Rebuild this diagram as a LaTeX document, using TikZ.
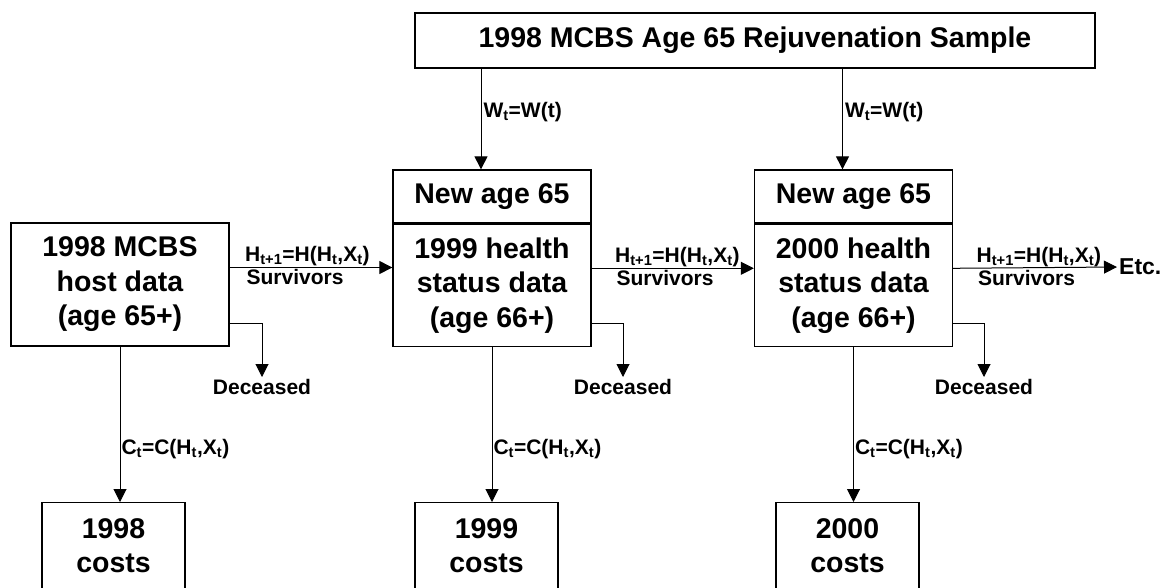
\documentclass[tikz,border=0pt]{standalone}
\usepackage{fontspec}
\setmainfont{Liberation Sans}
\usepackage{tikz}
\usetikzlibrary{arrows.meta,positioning,calc}

\begin{document}
\begin{tikzpicture}[
    x=1pt, y=-1pt,
    box/.style={rectangle, draw, line width=1.3pt, align=center, inner sep=0pt,
        font=\fontsize{28.5}{34.5}\selectfont\bfseries},
    lbl/.style={inner sep=2pt, font=\fontsize{21}{24}\selectfont\bfseries},
    arrow/.style={-{Triangle[length=13pt,width=13pt]}, line width=1pt}
]
    \useasboundingbox (0,0) rectangle (1168,587);

    % Sample and data boxes
    \node[box, minimum width=680pt, minimum height=55pt] (sample) at (755,40.5) {1998 MCBS Age 65 Rejuvenation Sample};

    \node[box, minimum width=218pt, minimum height=123pt] (host) at (120,284.5) {1998 MCBS\\host data\\(age 65+)};

    \node[box, minimum width=198pt, minimum height=53pt] (new1) at (492,196.5) {New age 65};
    \node[box, minimum width=198pt, minimum height=122pt, anchor=north] (data1) at (new1.south) {1999 health\\status data\\(age 66+)};

    \node[box, minimum width=198pt, minimum height=53pt] (new2) at (853.5,196.5) {New age 65};
    \node[box, minimum width=198pt, minimum height=122pt, anchor=north] (data2) at (new2.south) {2000 health\\status data\\(age 66+)};

    % Cost boxes
    \node[box, minimum width=143pt, minimum height=86pt, anchor=north] (cost0) at (113.5,502) {1998\\costs};
    \node[box, minimum width=143pt, minimum height=86pt, anchor=north] (cost1) at (486.5,502) {1999\\costs};
    \node[box, minimum width=143pt, minimum height=86pt, anchor=north] (cost2) at (847.5,502) {2000\\costs};

    % Deceased and Etc.
    \node[lbl, anchor=north] (dead0) at (262,377) {Deceased};
    \node[lbl, anchor=north] (dead1) at (623,377) {Deceased};
    \node[lbl, anchor=north] (dead2) at (984,377) {Deceased};
    \node[lbl, anchor=west, font=\fontsize{23}{26}\selectfont\bfseries] (etc) at (1117,267) {Etc.};

    % Rejuvenation arrows
    \draw[arrow] ([xshift=-11pt]new1.north |- sample.south) -- node[lbl, right, pos=0.43] {W\textsubscript{t}=W(t)} ([xshift=-11pt]new1.north);
    \draw[arrow] ([xshift=-11pt]new2.north |- sample.south) -- node[lbl, right, pos=0.43] {W\textsubscript{t}=W(t)} ([xshift=-11pt]new2.north);

    % Survivors arrows
    \draw[arrow] ([yshift=17pt]host.east) --
        node[lbl, pos=0, anchor=base west, xshift=15pt, yshift=6pt, inner sep=0pt] {H\textsubscript{t+1}=H(H\textsubscript{t},X\textsubscript{t})}
        node[lbl, pos=0, anchor=north west, xshift=15pt, inner sep=1.5pt] {Survivors}
        ([yshift=17pt]host.east -| data1.west);
    \draw[arrow] ([yshift=17pt]data1.east) --
        node[lbl, pos=0, anchor=base west, xshift=23pt, yshift=6pt, inner sep=0pt] {H\textsubscript{t+1}=H(H\textsubscript{t},X\textsubscript{t})}
        node[lbl, pos=0, anchor=north west, xshift=23pt, inner sep=1.5pt] {Survivors}
        ([yshift=17pt]data1.east -| data2.west);
    \draw[arrow] ([yshift=17pt]data2.east) --
        node[lbl, pos=0, anchor=base west, xshift=23pt, yshift=6pt, inner sep=0pt] {H\textsubscript{t+1}=H(H\textsubscript{t},X\textsubscript{t})}
        node[lbl, pos=0, anchor=north west, xshift=23pt, inner sep=1.5pt] {Survivors}
        (etc.west);

    % Deceased arrows
    \draw[arrow] ([yshift=-38.5pt]host.east) -| (dead0.north);
    \draw[arrow] ([yshift=-38.5pt]data1.east) -| (dead1.north);
    \draw[arrow] ([yshift=-38.5pt]data2.east) -| (dead2.north);

    % Cost arrows
    \draw[arrow] (host.south) -- node[lbl, right, pos=0.66, inner sep=1pt] {C\textsubscript{t}=C(H\textsubscript{t},X\textsubscript{t})} (host.south |- cost0.north);
    \draw[arrow] (data1.south) -- node[lbl, right, pos=0.66, inner sep=1pt] {C\textsubscript{t}=C(H\textsubscript{t},X\textsubscript{t})} (data1.south |- cost1.north);
    \draw[arrow] (data2.south) -- node[lbl, right, pos=0.66, inner sep=1pt] {C\textsubscript{t}=C(H\textsubscript{t},X\textsubscript{t})} (data2.south |- cost2.north);
\end{tikzpicture}
\end{document}
